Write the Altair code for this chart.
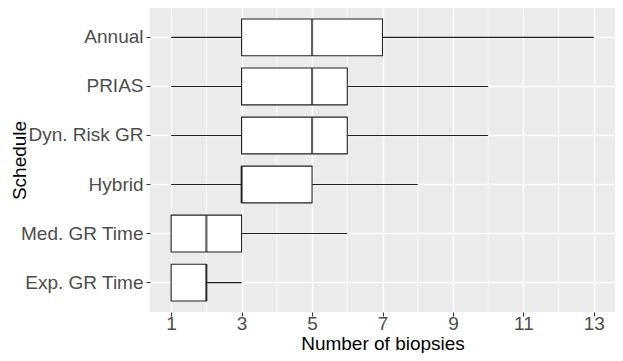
import altair as alt
import pandas as pd

schedules = ["Annual", "PRIAS", "Dyn. Risk GR", "Hybrid", "Med. GR Time", "Exp. GR Time"]
mins = [1, 1, 1, 1, 1, 1]
q1s = [3, 3, 3, 3, 1, 1]
medians = [5, 5, 5, 3, 2, 2]
q3s = [7, 6, 6, 5, 3, 2]
maxs = [13, 10, 10, 8, 6, 3]
major_breaks = [1, 3, 5, 7, 9, 11, 13]
minor_breaks = [2, 4, 6, 8, 10, 12]

df = pd.DataFrame({"schedule": schedules, "lo": mins, "q1": q1s, "med": medians, "q3": q3s, "hi": maxs})
minor_df = pd.DataFrame({"m": minor_breaks})

FONT = "Liberation Sans"
W, H = 465, 304
xscale = alt.Scale(domain=[0.4, 13.6], nice=False, zero=False)
xaxis = alt.Axis(values=major_breaks, title="Number of biopsies", grid=True, gridColor="white",
                 gridWidth=1.4, tickSize=4, labelPadding=13, labelBaseline="alphabetic",
                 tickColor="#333333", labelColor="#4d4d4d", labelFontSize=19, titleFontSize=19,
                 titleColor="black", titleFontWeight="normal", titleBaseline="alphabetic",
                 titleY=37, titleX=W / 2, titleAlign="center", domain=False,
                 labelFont=FONT, titleFont=FONT)
yenc = alt.Y("schedule:N", sort=schedules,
             scale=alt.Scale(domain=schedules, paddingInner=0.25, paddingOuter=0.225),
             axis=alt.Axis(title="Schedule", grid=True, gridColor="white", gridWidth=1.4,
                           bandPosition=0.5, tickSize=4, labelPadding=3, tickColor="#333333",
                           labelColor="#4d4d4d", labelFontSize=19, titleFontSize=19,
                           titleColor="black", titleFontWeight="normal", titleX=-131, titleY=H / 2,
                           titleAngle=270, titleBaseline="middle", titleAlign="center",
                           domain=False, labelFont=FONT, titleFont=FONT))

minor = alt.Chart(minor_df).mark_rule(color="white", strokeWidth=0.7).encode(
    x=alt.X("m:Q", scale=xscale, axis=xaxis))
whisk = alt.Chart(df).mark_rule(color="#222222", strokeWidth=1.1).encode(
    x=alt.X("lo:Q", scale=xscale, axis=xaxis), x2="hi:Q", y=yenc)
box = alt.Chart(df).mark_bar(fill="white", stroke="#222222", strokeWidth=1.1).encode(
    x=alt.X("q1:Q", scale=xscale, axis=xaxis), x2="q3:Q", y=yenc)
med = alt.Chart(df).mark_tick(color="#222222", thickness=2.2, size=36.8).encode(
    x=alt.X("med:Q", scale=xscale, axis=xaxis), y=yenc)

chart = alt.layer(minor, whisk, box, med).properties(
    width=W, height=H,
    autosize=alt.AutoSizeParams(type="none"),
    padding={"left": 142, "top": 0, "right": 0, "bottom": 41},
    background="white",
).configure_view(fill="#EBEBEB", stroke=None)

chart.save("out.html", embed_options={"renderer": "svg", "actions": False})
